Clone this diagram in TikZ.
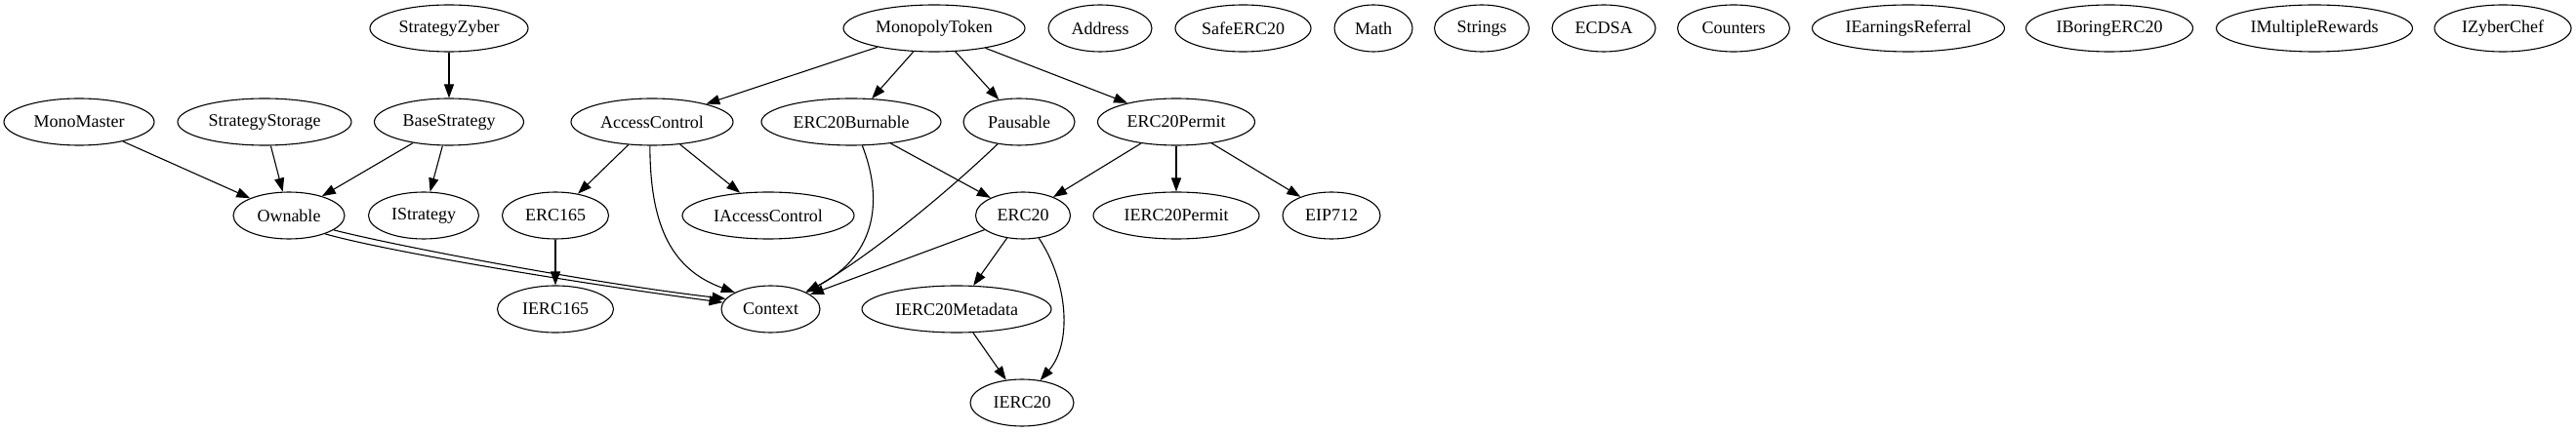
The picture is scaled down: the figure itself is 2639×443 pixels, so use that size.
\documentclass[tikz,border=0pt]{standalone}
\usepackage{fontspec}
\setmainfont{Liberation Serif}
\usetikzlibrary{shapes.geometric,arrows.meta}
\tikzset{
  cls/.style={draw, ellipse, line width=1.1pt, inner sep=0pt, minimum height=48pt, font=\fontsize{18}{20}\selectfont},
  edge/.style={line width=1.1pt, -{Triangle[length=14pt,width=10pt]}}
}
\begin{document}
\begin{tikzpicture}[x=1pt,y=-1pt]
\useasboundingbox (0,0) rectangle (2639,443);
% row 1
\node[cls, minimum width=162pt] (SZ) at (460,29) {StrategyZyber};
\node[cls, minimum width=186pt] (MT) at (957,29) {MonopolyToken};
\node[cls, minimum width=106pt] (Addr) at (1127,29) {Address};
\node[cls, minimum width=139pt] (Safe) at (1273.5,29) {SafeERC20};
\node[cls, minimum width=80pt] (Math) at (1407,29) {Math};
\node[cls, minimum width=97pt] (Str) at (1518,29) {Strings};
\node[cls, minimum width=106pt] (ECDSA) at (1643,29) {ECDSA};
\node[cls, minimum width=115pt] (Cnt) at (1776,29) {Counters};
\node[cls, minimum width=197pt] (IER) at (1955,29) {IEarningsReferral};
\node[cls, minimum width=171pt] (IBE) at (2161,29) {IBoringERC20};
\node[cls, minimum width=201pt] (IMR) at (2371,29) {IMultipleRewards};
\node[cls, minimum width=140pt] (IZC) at (2564,29) {IZyberChef};
% row 2
\node[cls, minimum width=154pt] (MM) at (81,125) {MonoMaster};
\node[cls, minimum width=178pt] (SS) at (271,125) {StrategyStorage};
\node[cls, minimum width=153pt] (BS) at (460,125) {BaseStrategy};
\node[cls, minimum width=166pt] (AC) at (668,125) {AccessControl};
\node[cls, minimum width=184pt] (EB) at (872,125) {ERC20Burnable};
\node[cls, minimum width=114pt] (Pau) at (1044,125) {Pausable};
\node[cls, minimum width=161pt] (EP) at (1205,125) {ERC20Permit};
% row 3
\node[cls, minimum width=114pt] (Own) at (296,221) {Ownable};
\node[cls, minimum width=113pt] (IS) at (434,221) {IStrategy};
\node[cls, minimum width=109pt] (E165) at (569,221) {ERC165};
\node[cls, minimum width=176pt] (IAC) at (787,221) {IAccessControl};
\node[cls, minimum width=97pt] (E20) at (1048,221) {ERC20};
\node[cls, minimum width=170pt] (IEP) at (1205,221) {IERC20Permit};
\node[cls, minimum width=100pt] (EIP) at (1364,221) {EIP712};
% row 4
\node[cls, minimum width=119pt] (IE165) at (569,317) {IERC165};
\node[cls, minimum width=101pt] (Ctx) at (789.5,317) {Context};
\node[cls, minimum width=194pt] (IEM) at (980,317) {IERC20Metadata};
% row 5
\node[cls, minimum width=106pt] (IE20) at (1047,413) {IERC20};
% edges
\draw[edge] (SZ) -- (BS);
\draw[edge] (MM) -- (Own);
\draw[edge] (SS) -- (Own);
\draw[edge] (BS) -- (Own);
\draw[edge] (BS) -- (IS);
\draw[edge] (MT) -- (AC);
\draw[edge] (MT) -- (EB);
\draw[edge] (MT) -- (Pau);
\draw[edge] (MT) -- (EP);
\draw[edge] (AC) -- (E165);
\draw[edge] (AC) -- (IAC);
\draw[edge] (AC.-95) .. controls +(0,85) and +(-63,-23) .. (Ctx.155);
\draw[edge] (EB.-65) .. controls +(20,51) and +(76,-39) .. (Ctx.26);
\draw[edge] (EB) -- (E20);
\draw[edge] (Pau.-134) .. controls +(-63,60) and +(60,-35) .. (Ctx.25);
\draw[edge] (EP) -- (E20);
\draw[edge] (EP) -- (IEP);
\draw[edge] (EP) -- (EIP);
\draw[edge] (Own.-27) .. controls +(67,19) and +(-137,-18) .. (Ctx.172);
\draw[edge] (Own.-18) .. controls +(67,17) and +(-137,-16) .. (Ctx.167);
\draw[edge] (E165) -- (IE165);
\draw[edge] (E20) -- (Ctx);
\draw[edge] (E20) -- (IEM);
\draw[edge] (E20.-55) .. controls +(30,45) and +(33,-38) .. (IE20.51);
\draw[edge] (IEM) -- (IE20);
\end{tikzpicture}
\end{document}
